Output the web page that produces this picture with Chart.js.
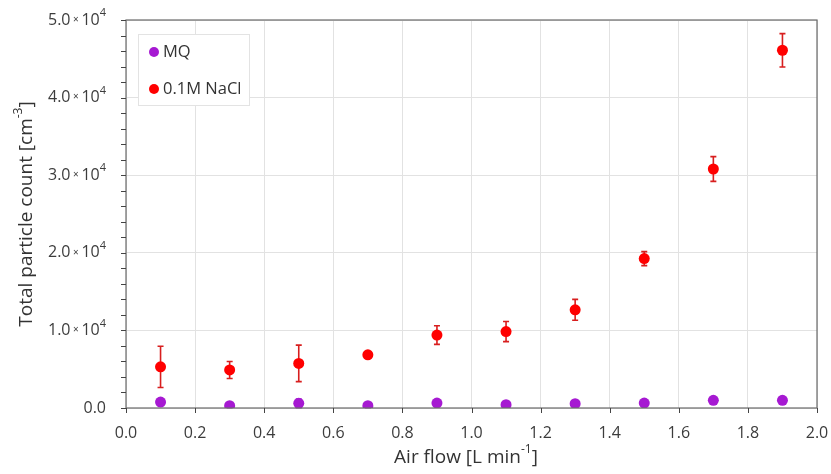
<!DOCTYPE html>
<html>
<head>
<meta charset="utf-8">
<script src="https://cdn.jsdelivr.net/npm/chart.js@4.4.1/dist/chart.umd.min.js"></script>
<style>
  html, body { margin: 0; padding: 0; background: #fff; }
  #grafico { display: block; }
</style>
</head>
<body>
<canvas id="grafico" width="831" height="474"></canvas>
<script>
// dados
const airFlow = [0.1, 0.3, 0.5, 0.7, 0.9, 1.1, 1.3, 1.5, 1.7, 1.9];
const mqCount = [770, 300, 600, 300, 640, 430, 550, 640, 990, 990];
const mqErr = [150, 250, 550, 250, 150, 150, 200, 150, 150, 150];
const naclCount = [5300, 4900, 5750, 6850, 9400, 9850, 12650, 19250, 30800, 46100];
const naclErr = [2650, 1100, 2350, 150, 1200, 1300, 1350, 900, 1600, 2150];
const seriesNames = ['MQ', '0.1M NaCl'];
const yTickMantissa = ['0.0', '1.0', '2.0', '3.0', '4.0', '5.0'];
const yTickExp = '4';
const xTitle = ['Air flow [L min', '-1', ']'];
const yTitle = ['Total particle count [cm', '-3', ']'];

const corMQ = '#a619d2';
const corNaCl = '#ff0000';
const fonte = '"Open Sans", "DejaVu Sans", sans-serif';

// desenha as barras de erro antes dos pontos
const barrasErro = {
  id: 'barrasErro',
  beforeDatasetsDraw(chart) {
    const ctx = chart.ctx;
    const x = chart.scales.x, y = chart.scales.y;
    const erros = [mqErr, naclErr];
    const cores = ['#a020c8', '#d81e1e'];
    chart.data.datasets.forEach((ds, i) => {
      ctx.save();
      ctx.strokeStyle = cores[i];
      ctx.lineWidth = 1.6;
      ds.data.forEach((p, j) => {
        const px = x.getPixelForValue(p.x);
        const top = y.getPixelForValue(p.y + erros[i][j]);
        const bot = y.getPixelForValue(Math.max(0, p.y - erros[i][j]));
        ctx.beginPath();
        ctx.moveTo(px, top); ctx.lineTo(px, bot);
        ctx.moveTo(px - 3, top); ctx.lineTo(px + 3, top);
        ctx.moveTo(px - 3, bot); ctx.lineTo(px + 3, bot);
        ctx.stroke();
      });
      ctx.restore();
    });
  }
};

// moldura, marcas, rótulos, títulos e legenda
const decoracao = {
  id: 'decoracao',
  afterDraw(chart) {
    const ctx = chart.ctx;
    const a = chart.chartArea;
    const x = chart.scales.x, y = chart.scales.y;
    ctx.save();

    // moldura
    ctx.strokeStyle = '#6a6a6a';
    ctx.lineWidth = 1.2;
    ctx.strokeRect(a.left, a.top, a.right - a.left, a.bottom - a.top);

    // marcas do eixo x
    ctx.strokeStyle = '#444';
    ctx.lineWidth = 1;
    ctx.beginPath();
    x.ticks.forEach(t => {
      const px = Math.round(x.getPixelForValue(t.value)) + 0.5;
      ctx.moveTo(px, a.bottom); ctx.lineTo(px, a.bottom + 5);
    });
    // marcas do eixo y (maiores e menores)
    for (let v = 0; v <= 50000; v += 2000) {
      const py = Math.round(y.getPixelForValue(v)) + 0.5;
      ctx.moveTo(a.left - 5, py); ctx.lineTo(a.left, py);
    }
    ctx.stroke();

    // rótulos do eixo x
    ctx.fillStyle = '#3c3c3c';
    ctx.font = '16px ' + fonte;
    ctx.textAlign = 'center';
    ctx.textBaseline = 'middle';
    x.ticks.forEach(t => {
      ctx.fillText(t.value.toFixed(1), x.getPixelForValue(t.value), a.bottom + 25);
    });

    // rótulos do eixo y: m × 10^4
    ctx.textAlign = 'left';
    const direita = a.left - 20;
    yTickMantissa.forEach((m, i) => {
      const py = y.getPixelForValue(i * 10000);
      if (i === 0) {
        ctx.font = '16px ' + fonte;
        ctx.textAlign = 'right';
        ctx.fillText(m, direita, py);
        ctx.textAlign = 'left';
        return;
      }
      const partes = [
        { t: m, f: '16px ', dy: 0 },
        { t: ' \u00d7 ', f: '10px ', dy: 0 },
        { t: '10', f: '16px ', dy: 0 },
        { t: yTickExp, f: '11px ', dy: -7 }
      ];
      let total = 0;
      partes.forEach(p => { ctx.font = p.f + fonte; p.w = ctx.measureText(p.t).width; total += p.w; });
      let cx = direita - total;
      partes.forEach(p => {
        ctx.font = p.f + fonte;
        ctx.fillText(p.t, cx, py + p.dy);
        cx += p.w;
      });
    });

    // título com expoente
    function titulo(partes, cx, cy) {
      const tam = ['19px ', '12px ', '19px '];
      const dy = [0, -8, 0];
      let total = 0;
      const ws = partes.map((t, i) => { ctx.font = tam[i] + fonte; const w = ctx.measureText(t).width; total += w; return w; });
      let px = cx - total / 2;
      partes.forEach((t, i) => {
        ctx.font = tam[i] + fonte;
        ctx.fillText(t, px, cy + dy[i]);
        px += ws[i];
      });
    }
    ctx.fillStyle = '#333';
    ctx.textAlign = 'left';
    ctx.textBaseline = 'middle';
    titulo(xTitle, 466, a.bottom + 50);
    ctx.save();
    ctx.translate(27, 214);
    ctx.rotate(-Math.PI / 2);
    titulo(yTitle, 0, 0);
    ctx.restore();

    // legenda
    ctx.fillStyle = '#fff';
    ctx.fillRect(138.5, 34.5, 111, 71);
    ctx.strokeStyle = '#e3e3e3';
    ctx.lineWidth = 1;
    ctx.strokeRect(138.5, 34.5, 111, 71);
    const cores = [corMQ, corNaCl];
    seriesNames.forEach((n, i) => {
      const ly = 52 + i * 37;
      ctx.fillStyle = cores[i];
      ctx.beginPath();
      ctx.arc(154, ly, 5, 0, Math.PI * 2);
      ctx.fill();
      ctx.fillStyle = '#333';
      ctx.font = '16.5px ' + fonte;
      ctx.textAlign = 'left';
      ctx.fillText(n, 163, ly);
    });

    ctx.restore();
  }
};

new Chart(document.getElementById('grafico'), {
  type: 'scatter',
  data: {
    datasets: [
      {
        label: seriesNames[0],
        data: airFlow.map((v, i) => ({ x: v, y: mqCount[i] })),
        backgroundColor: corMQ,
        borderColor: corMQ,
        pointRadius: 5.5,
        borderWidth: 0
      },
      {
        label: seriesNames[1],
        data: airFlow.map((v, i) => ({ x: v, y: naclCount[i] })),
        backgroundColor: corNaCl,
        borderColor: corNaCl,
        pointRadius: 5.5,
        borderWidth: 0
      }
    ]
  },
  options: {
    responsive: false,
    animation: false,
    layout: { padding: { left: 126, top: 20, right: 14, bottom: 66 } },
    plugins: {
      legend: { display: false },
      tooltip: { enabled: false }
    },
    scales: {
      x: {
        type: 'linear',
        min: 0,
        max: 2,
        ticks: { stepSize: 0.2, display: false },
        grid: { color: '#e2e2e2', drawTicks: false },
        border: { display: false }
      },
      y: {
        type: 'linear',
        min: 0,
        max: 50000,
        ticks: { stepSize: 10000, display: false },
        grid: { color: '#e2e2e2', drawTicks: false },
        border: { display: false }
      }
    }
  },
  plugins: [barrasErro, decoracao]
});
</script>
</body>
</html>
